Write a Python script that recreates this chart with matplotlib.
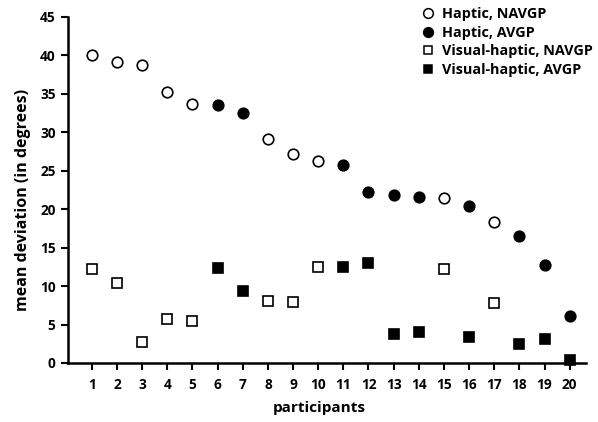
import matplotlib
matplotlib.use("Agg")
import matplotlib.pyplot as plt
from matplotlib.lines import Line2D

plt.rcParams['font.family'] = ['Open Sans', 'DejaVu Sans']
plt.rcParams['font.weight'] = 'bold'

participants = list(range(1, 21))
haptic = [40.0, 39.1, 38.7, 35.2, 33.7, 33.6, 32.5, 29.1, 27.2, 26.3,
          25.8, 22.3, 21.8, 21.6, 21.4, 20.4, 18.3, 16.5, 12.8, 6.1]
visual_haptic = [12.2, 10.4, 2.7, 5.7, 5.5, 12.3, 9.4, 8.0, 7.9, 12.5,
                 12.5, 13.0, 3.8, 4.0, 12.2, 3.4, 7.8, 2.5, 3.1, 0.4]
avgp = [False, False, False, False, False, True, True, False, False, False,
        True, True, True, True, False, True, False, True, True, True]
legend_labels = ["Haptic, NAVGP", "Haptic, AVGP", "Visual-haptic, NAVGP", "Visual-haptic, AVGP"]

fig = plt.figure(figsize=(5.98, 4.22), dpi=100)
ax = fig.add_axes([68/598, 59/422, (586-68)/598, (363-17)/422])

def split(vals, flag):
    xs = [p for p, a in zip(participants, avgp) if a == flag]
    ys = [v for v, a in zip(vals, avgp) if a == flag]
    return xs, ys

ms_c = 7.6
ms_s = 6.8
x, y = split(haptic, False)
ax.plot(x, y, 'o', ms=ms_c, mfc='white', mec='black', mew=1.2, ls='none', clip_on=False)
x, y = split(haptic, True)
ax.plot(x, y, 'o', ms=ms_c, mfc='black', mec='black', mew=1.2, ls='none', clip_on=False)
x, y = split(visual_haptic, False)
ax.plot(x, y, 's', ms=ms_s, mfc='white', mec='black', mew=1.2, ls='none', clip_on=False)
x, y = split(visual_haptic, True)
ax.plot(x, y, 's', ms=ms_s, mfc='black', mec='black', mew=1.2, ls='none', clip_on=False)

ax.set_xlim(0.05, 20.65)
ax.set_ylim(0, 45)
ax.set_xticks(participants)
ax.set_yticks(range(0, 46, 5))
ax.spines['top'].set_visible(False)
ax.spines['right'].set_visible(False)
ax.spines['left'].set_linewidth(1.8)
ax.spines['bottom'].set_linewidth(1.8)
ax.tick_params(axis='both', direction='out', length=5, width=1.5, labelsize=9.8, pad=4)
ax.tick_params(axis='x', pad=6)
for lab in ax.get_xticklabels() + ax.get_yticklabels():
    lab.set_fontweight('bold')

ax.set_xlabel("participants", fontsize=11, fontweight='bold')
ax.set_ylabel("mean deviation (in degrees)", fontsize=11.5, fontweight='bold')
ax.xaxis.set_label_coords(0.486, -0.11)
ax.yaxis.set_label_coords(-0.071, 0.47)

handles = [
    Line2D([], [], marker='o', ls='none', ms=7, mfc='white', mec='black', mew=1.1),
    Line2D([], [], marker='o', ls='none', ms=7, mfc='black', mec='black', mew=1.1),
    Line2D([], [], marker='s', ls='none', ms=6.3, mfc='white', mec='black', mew=1.1),
    Line2D([], [], marker='s', ls='none', ms=6.3, mfc='black', mec='black', mew=1.1),
]
leg = ax.legend(handles, legend_labels, loc='upper left', bbox_to_anchor=(421/598, 1.0 - 7/422),
                bbox_transform=fig.transFigure, frameon=False, handlelength=1.0,
                handletextpad=0.45, labelspacing=0.32, borderaxespad=0, borderpad=0,
                prop={'weight': 'bold', 'size': 10.4})

fig.savefig("out.png", dpi=100)
